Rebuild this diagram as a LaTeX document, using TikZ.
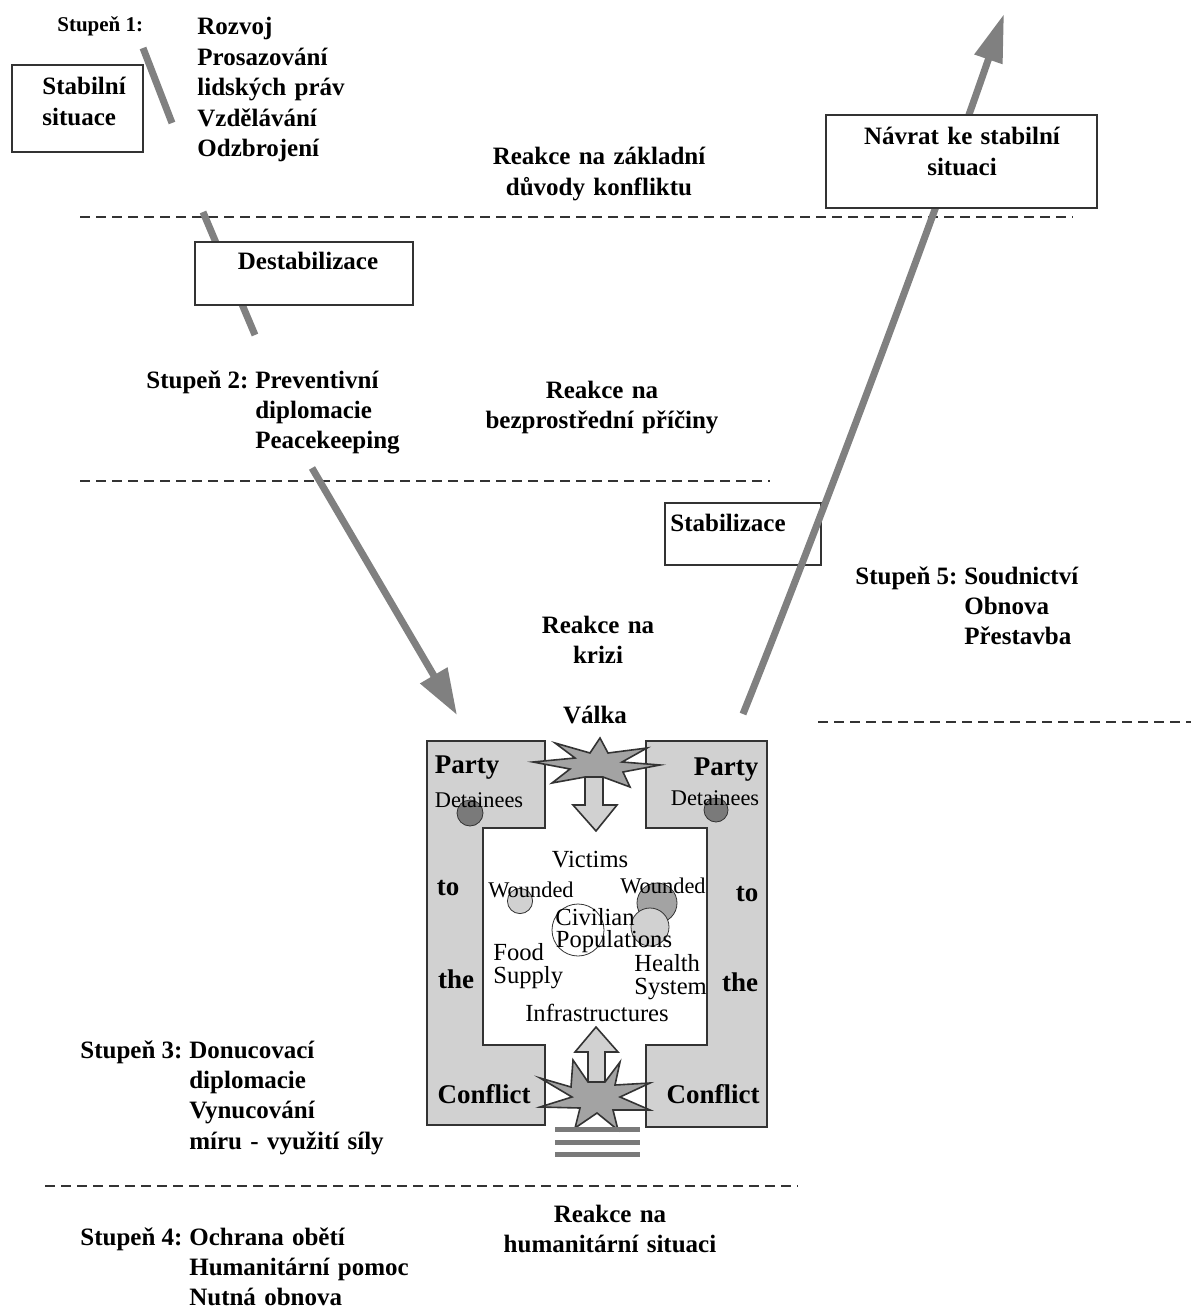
\documentclass[tikz,border=0pt]{standalone}
\usepackage{fontspec}
\setmainfont{Liberation Serif}
\usetikzlibrary{positioning,arrows.meta}
\definecolor{inkgrey}{gray}{0.2}
\definecolor{trackgrey}{gray}{0.5}
\definecolor{bandgrey}{gray}{0.82}
\definecolor{stargrey}{gray}{0.64}
\definecolor{dotgrey}{gray}{0.48}

\begin{document}
\begin{tikzpicture}[x=0.5pt ,y=-0.5pt ,
lbl/.style ={font=\fontsize{12.5}{15.2}\selectfont\bfseries , inner sep=0pt},
small/.style ={font=\fontsize{10.5}{12}\selectfont\bfseries , inner sep=0pt},
list/.style ={lbl , text width=120pt , align=left},
mid/.style ={lbl , text width=140pt , align=center},
box/.style ={draw=inkgrey , line width=1pt , fill=white , inner sep=0pt},
level/.style ={draw=inkgrey , line width=1.1pt , dash pattern=on 5pt off 3pt},
track/.style ={draw=trackgrey , line width=3.5pt},
band/.style ={draw=inkgrey , line width=0.8pt , fill=bandgrey},
blast/.style ={draw=inkgrey , line width=0.8pt , fill=stargrey},
word/.style ={font=\fontsize{12.3}{11.6}\selectfont , inner sep=0pt},
tiny/.style ={font=\fontsize{11.2}{11.8}\selectfont , inner sep=0pt},
side/.style ={font=\fontsize{13.5}{15}\selectfont\bfseries , inner sep=0pt}]
  \useasboundingbox (0,0) rectangle (1191,1310);
  % dividing levels
  \draw[level] (80,217) -- (1073,217);
  \draw[level] (80,481) -- (770,481);
  \draw[level] (818,722) -- (1191,722);
  \draw[level] (45,1186) -- (798,1186);
  % way down
  \coordinate (a1) at (143,48);
  \coordinate (a2) at (172,123);
  \coordinate (b1) at (203,212);
  \coordinate (b2) at (255,335);
  \coordinate (c1) at (312,468);
  \coordinate (c2) at (457,715);
  \draw[track] (a1) -- (a2);
  \draw[track] (b1) -- (b2);
  \draw[track,-{Triangle[length=23pt,width=15pt]}] (c1) -- (c2);
  \node[box,minimum width=65.5pt,minimum height=43.5pt](stable) at (77.5,108.5){};
  \node[box,minimum width=109pt,minimum height=31.5pt](destab) at (304,273.5){};
  % way up
  \node[box,minimum width=78pt,minimum height=31pt](stabil) at (743,534){};
  \coordinate (r0) at (743,714);
  \coordinate (r1) at (1004,14);
  \draw[track,-{Triangle[length=24pt,width=14pt]}] (r0) .. controls (823,514) and (934,217) .. (r1);
  \node[box,minimum width=135.5pt,minimum height=46.5pt](back) at (961.5,162){};
  % texts of the stages
  \node[small,anchor=base west](stage1) at (57,32){Stupeň 1:};
  \node[list,anchor=base west](list1) at (197,35){Rozvoj\\Prosazování\\lidských práv\\Vzdělávání\\Odzbrojení};
  \node[lbl,text width=45pt,align=left,anchor=base west](stabletxt) at (42,95){Stabilní\\situace};
  \node[mid,anchor=base](cause) at (599,165){Reakce na základní\\důvody konfliktu};
  \node[lbl,anchor=base](destabtxt) at (308,270){Destabilizace};
  \node[lbl,anchor=base west](stage2) at (146,388){Stupeň 2:};
  \node[list,anchor=base west](list2) at ([xshift=3pt]stage2.base east){Preventivní\\diplomacie\\Peacekeeping};
  \node[mid,anchor=base](trigger) at (602,398){Reakce na\\bezprostřední příčiny};
  \node[lbl,anchor=base](stabiltxt) at (728,531){Stabilizace};
  \node[mid,anchor=base](backtxt) at (962,145){Návrat ke stabilní\\situaci};
  \node[lbl,anchor=base west](stage5) at (855,584){Stupeň 5:};
  \node[list,anchor=base west](list5) at ([xshift=3pt]stage5.base east){Soudnictví\\Obnova\\Přestavba};
  \node[mid,anchor=base](crisis) at (598,633){Reakce na\\krizi};
  \node[lbl,anchor=base](war) at (595,723){Válka};
  \node[lbl,anchor=base west](stage3) at (80,1058){Stupeň 3:};
  \node[list,anchor=base west](list3) at ([xshift=3pt]stage3.base east){Donucovací\\diplomacie\\Vynucování\\míru - využití síly};
  \node[lbl,anchor=base west](stage4) at (80,1245){Stupeň 4:};
  \node[list,anchor=base west](list4) at ([xshift=3pt]stage4.base east){Ochrana obětí\\Humanitární pomoc\\Nutná obnova};
  \node[mid,anchor=base](relief) at (610,1222){Reakce na\\humanitární situaci};
  % the conflict
  \draw[band] (427,741) -- (545,741) -- (545,828) -- (483,828) -- (483,1045) -- (545,1045) -- (545,1125) -- (427,1125) -- cycle;
  \draw[band] (646,741) -- (767,741) -- (767,1127) -- (646,1127) -- (646,1045) -- (707,1045) -- (707,828) -- (646,828) -- cycle;
  \draw[band] (585,775) -- (603,775) -- (603,805) -- (617,805) -- (596,831) -- (573,805) -- (585,805) -- cycle;
  \draw[band] (588,1090) -- (588,1052) -- (575,1052) -- (596,1027) -- (618,1052) -- (605,1052) -- (605,1090) -- cycle;
  \draw[blast] (533,762) -- (575,758) -- (555,743) -- (590,753) -- (600,738) -- (608,753) -- (647,748) -- (622,762) -- (660,765) -- (623,772) -- (630,787) -- (603,777) -- (585,777) -- (552,783) -- (570,769) -- cycle;
  \draw[blast] (540,1078) -- (571,1087) -- (573,1060) -- (588,1082) -- (605,1082) -- (620,1062) -- (615,1085) -- (650,1083) -- (620,1097) -- (650,1110) -- (613,1110) -- (618,1130) -- (597,1113) -- (575,1128) -- (580,1108) -- (540,1107) -- (572,1097) -- cycle;
  \foreach \y in {1129,1142,1154}
    \draw[dotgrey,line width=2.5pt] (555,\y) -- (640,\y);
  \draw[inkgrey,fill=dotgrey] (470,813) circle[radius=6.5pt];
  \draw[inkgrey,fill=dotgrey] (716,810) circle[radius=6pt];
  \draw[inkgrey,fill=bandgrey] (520,901) circle[radius=6.3pt];
  \draw[inkgrey,fill=stargrey] (657,903) circle[radius=10pt];
  \draw[inkgrey,fill=bandgrey] (650,927) circle[radius=9.5pt];
  \draw[inkgrey] (578,930) circle[radius=13pt];
  \node[side,anchor=base](partyL) at (467,773){Party};
  \node[side,anchor=base](partyR) at (726,775){Party};
  \node[tiny,anchor=base](detL) at (479,807){Detainees};
  \node[tiny,anchor=base](detR) at (715,805){Detainees};
  \node[side,anchor=base](toL) at (448,895){to};
  \node[side,anchor=base](toR) at (747,901){to};
  \node[side,anchor=base](theL) at (456,988){the};
  \node[side,anchor=base](theR) at (740,991){the};
  \node[side,anchor=base](confL) at (484,1103){Conflict};
  \node[side,anchor=base](confR) at (713,1103){Conflict};
  \node[word,anchor=base](victims) at (590,867){Victims};
  \node[tiny,anchor=base](woundL) at (531,897){Wounded};
  \node[tiny,anchor=base](woundR) at (663,893){Wounded};
  \node[word,anchor=base](civil) at (595,925){Civilian};
  \node[word,anchor=base](popul) at (614,947){Populations};
  \node[word,text width=40pt,align=left,anchor=base west](food) at (493,960){Food\\Supply};
  \node[word,text width=40pt,align=left,anchor=base west](health) at (634,971){Health\\System};
  \node[word,anchor=base](infra) at (597,1021){Infrastructures};
\end{tikzpicture}
\end{document}
